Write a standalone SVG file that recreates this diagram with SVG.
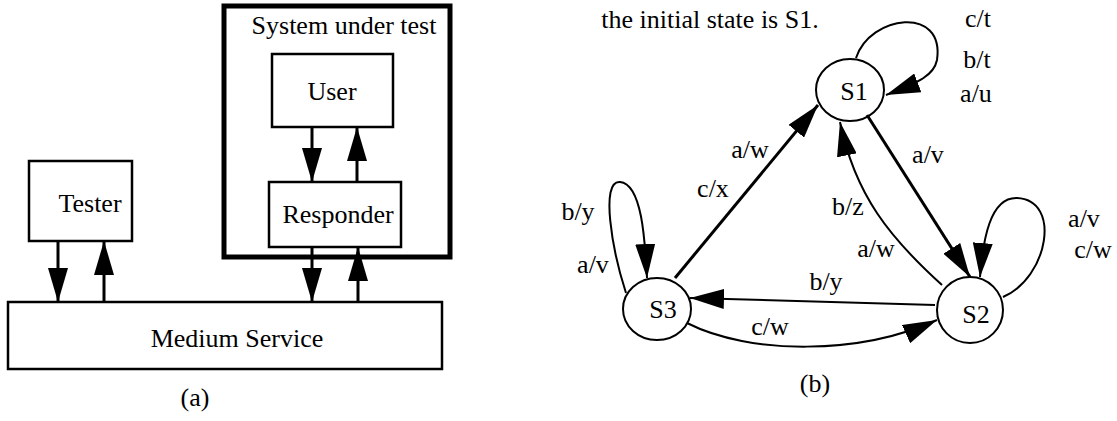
<svg xmlns="http://www.w3.org/2000/svg" width="1117" height="421" viewBox="0 0 1117 421">
<style>
text{font-family:'Liberation Serif','Times New Roman','DejaVu Serif',serif;font-size:26px;fill:#000;text-anchor:middle}
.box{fill:#fff;stroke:#000;stroke-width:2.5}
.st{fill:#fff;stroke:#000;stroke-width:2}
.c{fill:none;stroke:#000;stroke-width:3}
.t{fill:none;stroke:#000;stroke-width:2}
</style>
<defs>
<marker id="ah" markerUnits="userSpaceOnUse" markerWidth="34" markerHeight="20" refX="34" refY="10" orient="auto" viewBox="0 0 34 20">
<path d="M0,0 L34,10 L0,20 Z" fill="#000"/>
</marker>
</defs>
<g id="sut"><rect x="224" y="6" width="226" height="251" fill="none" stroke="#000" stroke-width="5"/><text x="344" y="34">System under test</text></g>
<g id="user"><rect class="box" x="272" y="54" width="121" height="73"/><text x="332" y="100">User</text></g>
<g id="responder"><rect class="box" x="269" y="182" width="132" height="65"/><text x="338" y="223">Responder</text></g>
<g id="tester"><rect class="box" x="29" y="161" width="103" height="80"/><text x="90" y="212">Tester</text></g>
<g id="medium"><rect class="box" x="8" y="302" width="434" height="67"/><text x="237" y="347">Medium Service</text></g>
<g id="label-a"><text x="195" y="406">(a)</text></g>
<g id="note"><text x="710" y="28">the initial state is S1.</text></g>
<g id="S1"><ellipse class="st" cx="850" cy="90" rx="34" ry="31"/><text x="854" y="100">S1</text></g>
<g id="S2"><ellipse class="st" cx="970" cy="310" rx="33" ry="33"/><text x="976" y="323">S2</text></g>
<g id="S3"><ellipse class="st" cx="657" cy="309" rx="34" ry="31"/><text x="663" y="318">S3</text></g>
<g id="label-b"><text x="815" y="392">(b)</text></g>
<g id="connectors">
<path class="c" d="M58 241 L58 302" marker-end="url(#ah)"/>
<path class="c" d="M104 302 L104 241" marker-end="url(#ah)"/>
<path class="c" d="M312 127 L312 182" marker-end="url(#ah)"/>
<path class="c" d="M357 182 L357 127" marker-end="url(#ah)"/>
<path class="c" d="M312 247 L312 302" marker-end="url(#ah)"/>
<path class="c" d="M358 302 L358 247" marker-end="url(#ah)"/>
<path class="t" d="M856 58 C870 15 945 5 937 60 C934 75 920 82 886 95" marker-end="url(#ah)"/>
<path class="c" d="M867 115 L970 277" marker-end="url(#ah)"/>
<path class="t" d="M942 285 C890 238 855 195 840 122" marker-end="url(#ah)"/>
<path class="c" d="M675 278 L818 105" marker-end="url(#ah)"/>
<path class="t" d="M935 305 L690 298" marker-end="url(#ah)"/>
<path class="t" d="M687 323 C750 355 860 355 937 320" marker-end="url(#ah)"/>
<path class="t" d="M626 293 C612 250 600 180 620 182 C642 184 645 240 647 278" marker-end="url(#ah)"/>
<path class="t" d="M1003 297 C1048 278 1062 200 1017 198 C990 197 983 240 980 277" marker-end="url(#ah)"/>
<text x="978" y="27">c/t</text>
<text x="977" y="68">b/t</text>
<text x="976" y="102">a/u</text>
<text x="928" y="163">a/v</text>
<text x="848" y="215">b/z</text>
<text x="876" y="257">a/w</text>
<text x="1084" y="227">a/v</text>
<text x="1093" y="258">c/w</text>
<text x="826" y="290">b/y</text>
<text x="770" y="335">c/w</text>
<text x="750" y="158">a/w</text>
<text x="713" y="197">c/x</text>
<text x="578" y="220">b/y</text>
<text x="593" y="273">a/v</text>
</g>
</svg>
